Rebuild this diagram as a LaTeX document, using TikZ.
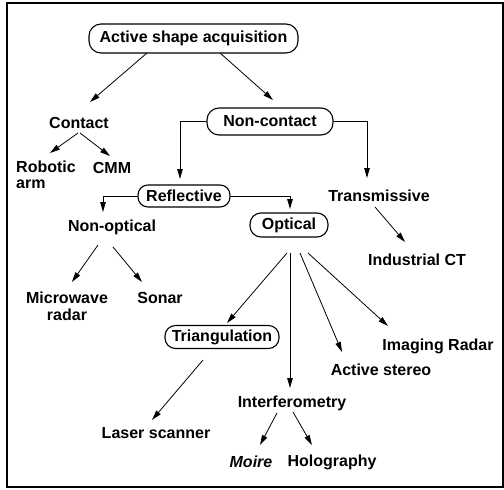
\documentclass[tikz,border=0pt]{standalone}
\usepackage{fontspec}
\setmainfont{Liberation Sans}
\usetikzlibrary{arrows.meta,calc}
\begin{document}
\begin{tikzpicture}[x=1pt,y=-1pt,
  lbl/.style={font=\fontsize{16}{16}\selectfont\bfseries, inner sep=0pt, align=center},
  rbox/.style={lbl, draw, line width=1.1pt, rounded corners=#1},
  rbox/.default=10pt,
  arr/.style={line width=0.8pt, -{Triangle[length=10pt,width=5.5pt]}},
  lnk/.style={line width=0.8pt}]
\useasboundingbox (0,0) rectangle (504,490);
\draw[line width=1.2pt] (7,3) rectangle (503,487);

% boxed nodes
\node[rbox=12pt, minimum width=209pt, minimum height=29pt] (act) at (193.5,38.5) {Active shape acquisition};
\node[rbox=12pt, minimum width=126pt, minimum height=27pt] (nonc) at (270,121.5) {Non-contact};
\node[rbox=10pt, minimum width=92pt, minimum height=22pt] (refl) at (184,196) {Reflective};
\node[rbox=11pt, minimum width=78pt, minimum height=24pt] (opt) at (289,225) {Optical};
\node[rbox=10.5pt, minimum width=114pt, minimum height=23pt] (tri) at (222,337) {Triangulation};

% text nodes
\node[lbl] (contact) at (79,123) {Contact};
\node[lbl, align=left] (robotic) at (46,174.5) {Robotic\\arm};
\node[lbl] (cmm) at (112,168) {CMM};
\node[lbl] (trans) at (379,196) {Transmissive};
\node[lbl] (nonopt) at (112,227) {Non-optical};
\node[lbl] (micro) at (67,306.5) {Microwave\\[1pt]radar};
\node[lbl] (sonar) at (160,298) {Sonar};
\node[lbl] (ict) at (417,260) {Industrial CT};
\node[lbl] (ir) at (438,346) {Imaging Radar};
\node[lbl] (as) at (381,370) {Active stereo};
\node[lbl] (laser) at (156,433) {Laser scanner};
\node[lbl] (interf) at (292,403) {Interferometry};
\node[lbl] (moire) at (251,462) {\itshape Moire};
\node[lbl] (holo) at (332,462) {Holography};

% connectors
\draw[arr] ($(act)+(-46.5,14.5)$) -- ($(contact)+(11,-21)$);
\draw[arr] ($(act)+(26.5,14.5)$) -- ($(nonc)+(3,-21.5)$);
\draw[arr] ($(contact)+(-1,10)$) -- ($(robotic)+(4,-21.5)$);
\draw[arr] ($(contact)+(1,10)$) -- ($(cmm)+(-2,-12)$);
\draw[arr] (nonc.west) -| ($(refl)+(-4,-17)$);
\draw[arr] (nonc.east) -| ($(trans)+(-12,-18)$);
\draw[arr] (refl.west) -| ($(nonopt)+(-9,-15)$);
\draw[arr] (refl.east) -| ($(opt)+(1,-16)$);
\draw[arr] ($(trans)+(-4,11)$) -- ($(ict)+(-12,-18)$);
\draw[arr] ($(nonopt)+(-14,18)$) -- ($(micro)+(5,-24.5)$);
\draw[arr] ($(nonopt)+(1,20)$) -- ($(sonar)+(-18,-16)$);
\draw[arr] ($(opt)+(-2,28)$) -- ($(tri)+(5,-14)$);
\draw[arr] ($(opt)+(1,28)$) -- ($(interf)+(-2,-15)$);
\draw[arr] ($(opt)+(11,28)$) -- ($(as)+(-39,-18)$);
\draw[arr] ($(opt)+(19,28)$) -- ($(ir)+(-50,-20)$);
\draw[arr] ($(tri)+(-19,23)$) -- ($(laser)+(-4,-13)$);
\draw[arr] ($(interf)+(-15,10)$) -- ($(moire)+(9,-17)$);
\draw[arr] ($(interf)+(1,9)$) -- ($(holo)+(-20,-17)$);
\end{tikzpicture}
\end{document}
